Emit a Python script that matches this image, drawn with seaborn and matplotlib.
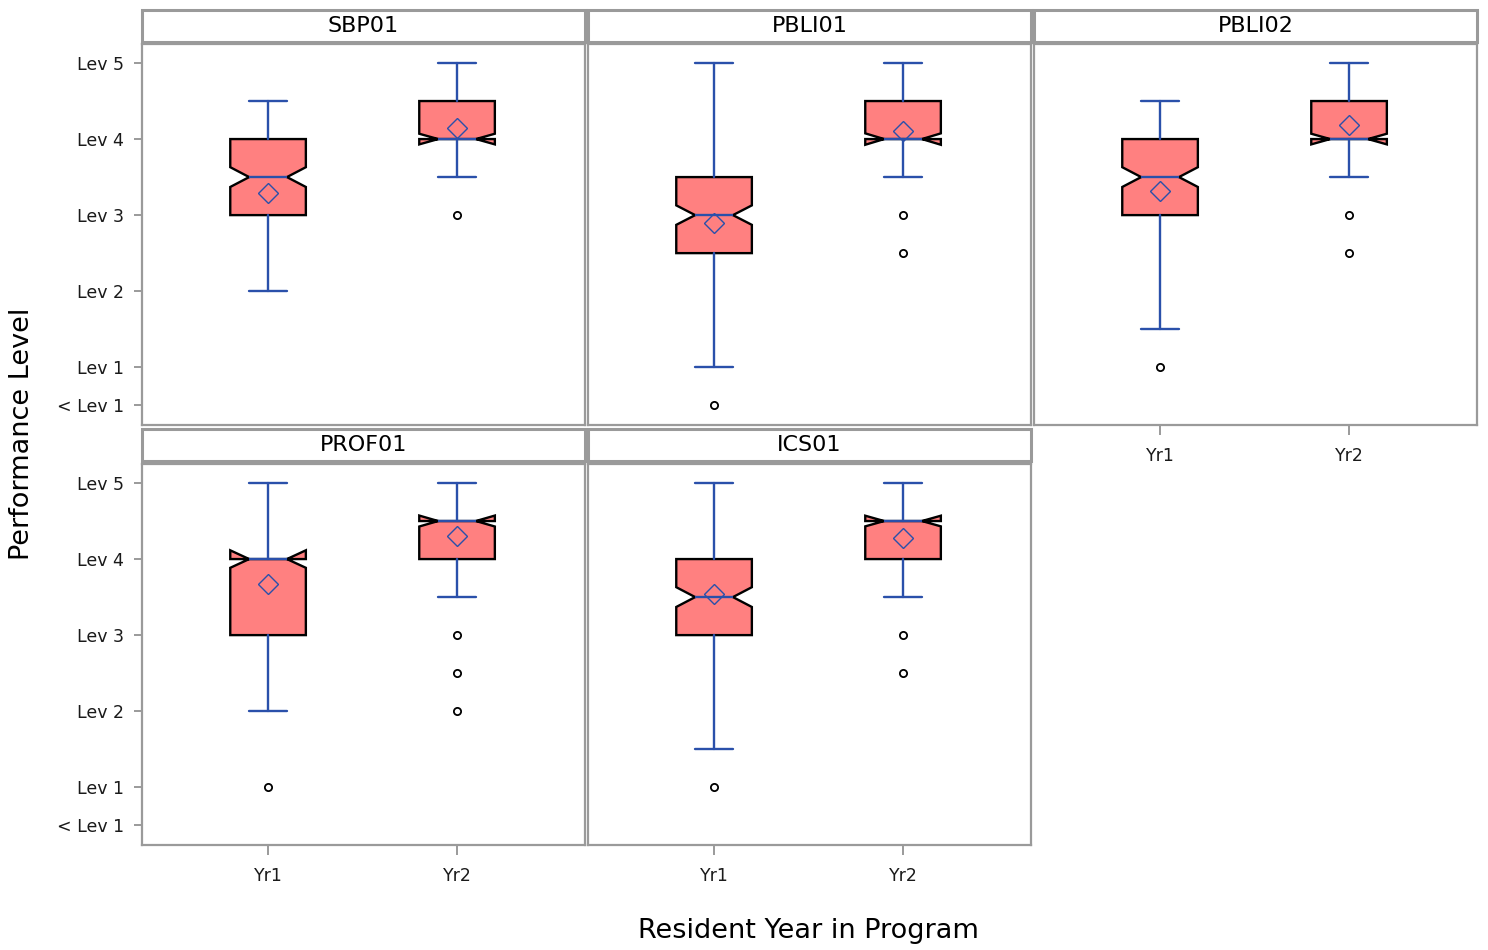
import numpy as np
import pandas as pd
import matplotlib
matplotlib.use("Agg")
import matplotlib.pyplot as plt
from matplotlib.patches import Rectangle
import seaborn as sns

# ---------------- data ----------------
competencies = ["SBP01", "PBLI01", "PBLI02", "PROF01", "ICS01"]
years = ["Yr1", "Yr2"]
level_ticks = [0.5, 1, 2, 3, 4, 5]
level_labels = ["< Lev 1", "Lev 1", "Lev 2", "Lev 3", "Lev 4", "Lev 5"]

# Yr1 box statistics, in the order of `competencies`
q1_yr1 = [3.0, 2.5, 3.0, 3.0, 3.0]
med_yr1 = [3.5, 3.0, 3.5, 4.0, 3.5]
q3_yr1 = [4.0, 3.5, 4.0, 4.0, 4.0]
whislo_yr1 = [2.0, 1.0, 1.5, 2.0, 1.5]
whishi_yr1 = [4.5, 5.0, 4.5, 5.0, 5.0]
mean_yr1 = [3.29, 2.89, 3.32, 3.67, 3.54]
notch_yr1 = [0.13, 0.128, 0.13, 0.115, 0.13]
fliers_yr1 = [[], [0.5], [1.0], [1.0], [1.0]]

# Yr2 box statistics
q1_yr2 = [4.0, 4.0, 4.0, 4.0, 4.0]
med_yr2 = [4.0, 4.0, 4.0, 4.5, 4.5]
q3_yr2 = [4.5, 4.5, 4.5, 4.5, 4.5]
whislo_yr2 = [3.5, 3.5, 3.5, 3.5, 3.5]
whishi_yr2 = [5.0, 5.0, 5.0, 5.0, 5.0]
mean_yr2 = [4.15, 4.10, 4.18, 4.30, 4.28]
notch_yr2 = [0.07, 0.075, 0.07, 0.072, 0.07]
fliers_yr2 = [[3.0], [3.0, 2.5], [3.0, 2.5], [3.0, 2.5, 2.0], [3.0, 2.5]]

# ---------------- table for seaborn ----------------
rows = []
for i, comp in enumerate(competencies):
    rows.append(dict(competency=comp, year="Yr1", q1=q1_yr1[i], med=med_yr1[i], q3=q3_yr1[i],
                     whislo=whislo_yr1[i], whishi=whishi_yr1[i], mean=mean_yr1[i],
                     notch=notch_yr1[i], fliers=fliers_yr1[i]))
    rows.append(dict(competency=comp, year="Yr2", q1=q1_yr2[i], med=med_yr2[i], q3=q3_yr2[i],
                     whislo=whislo_yr2[i], whishi=whishi_yr2[i], mean=mean_yr2[i],
                     notch=notch_yr2[i], fliers=fliers_yr2[i]))
df = pd.DataFrame(rows)

sns.set_theme(style="white")
plt.rcParams["font.family"] = ["DejaVu Sans"]

BOX_FILL = "#FF8080"
BLUE = "#2A50AA"
FRAME = "#9A9A9A"
TEXT = "#1A1A1A"


def draw_panel(data, **kws):
    ax = plt.gca()
    stats, pos = [], []
    for _, r in data.iterrows():
        stats.append(dict(label=r["year"], med=r["med"], q1=r["q1"], q3=r["q3"],
                          whislo=r["whislo"], whishi=r["whishi"], mean=r["mean"],
                          cilo=r["med"] - r["notch"], cihi=r["med"] + r["notch"],
                          fliers=np.asarray(r["fliers"], dtype=float)))
        pos.append(years.index(r["year"]))
    ax.bxp(stats, positions=pos, widths=0.4, patch_artist=True, shownotches=True,
           showmeans=True, manage_ticks=False,
           boxprops=dict(facecolor=BOX_FILL, edgecolor="black", linewidth=1.7),
           whiskerprops=dict(color=BLUE, linewidth=1.7),
           capprops=dict(color=BLUE, linewidth=1.7),
           medianprops=dict(color=BLUE, linewidth=1.7),
           meanprops=dict(marker="D", markerfacecolor="none", markeredgecolor=BLUE,
                          markersize=10.5, markeredgewidth=1.0),
           flierprops=dict(marker="o", markerfacecolor="none", markeredgecolor="black",
                           markersize=5.2, markeredgewidth=1.3))


g = sns.FacetGrid(df, col="competency", col_order=competencies, col_wrap=3,
                  sharex=True, sharey=True, height=4, aspect=1.16, despine=False)
g.map_dataframe(draw_panel)

fig = g.figure
fig.set_size_inches(14.88, 9.5)
W, H = 1488.0, 950.0
col_left = [142, 588, 1034]
row_top = [44, 464]
ax_w, ax_h = 443, 381

for k, (comp, ax) in enumerate(zip(competencies, g.axes.flat)):
    r, c = divmod(k, 3)
    ax.set_position([col_left[c] / W, 1 - (row_top[r] + ax_h) / H, ax_w / W, ax_h / H])
    ax.set_xlim(-0.667, 1.677)
    ax.set_ylim(0.24, 5.25)
    ax.set_title("")
    ax.set_xlabel("")
    ax.set_ylabel("")
    for sp in ax.spines.values():
        sp.set_visible(True)
        sp.set_color(FRAME)
        sp.set_linewidth(1.6)
    ax.set_xticks(range(len(years)))
    ax.set_xticklabels(years)
    ax.set_yticks(level_ticks)
    ax.set_yticklabels(level_labels)
    show_y = (c == 0)
    show_x = (k + 3 >= len(competencies))
    ax.tick_params(axis="y", left=show_y, labelleft=show_y, length=6, width=1.4,
                   color=FRAME, labelsize=12.5, labelcolor=TEXT, pad=7, direction="out")
    ax.tick_params(axis="x", bottom=show_x, labelbottom=show_x, length=7, width=1.4,
                   color=FRAME, labelsize=12.5, labelcolor=TEXT, pad=8.5, direction="out")
    # header strip
    strip = Rectangle((0, 1 + 2.5 / ax_h), 1, 32 / ax_h, transform=ax.transAxes,
                      clip_on=False, facecolor="white", edgecolor=FRAME, linewidth=2.2)
    ax.add_patch(strip)
    ax.text(0.5, 1 + (2.5 + 16.0) / ax_h, comp, transform=ax.transAxes, ha="center",
            va="center", fontsize=16, color="black")

fig.text(22 / W, 1 - 433.5 / H, "Performance Level", rotation=90, ha="center",
         va="center", fontsize=19.5, color="black")
fig.text(808.5 / W, 1 - 931 / H, "Resident Year in Program", ha="center",
         va="center", fontsize=19.5, color="black")

fig.savefig("out.png", dpi=100)
